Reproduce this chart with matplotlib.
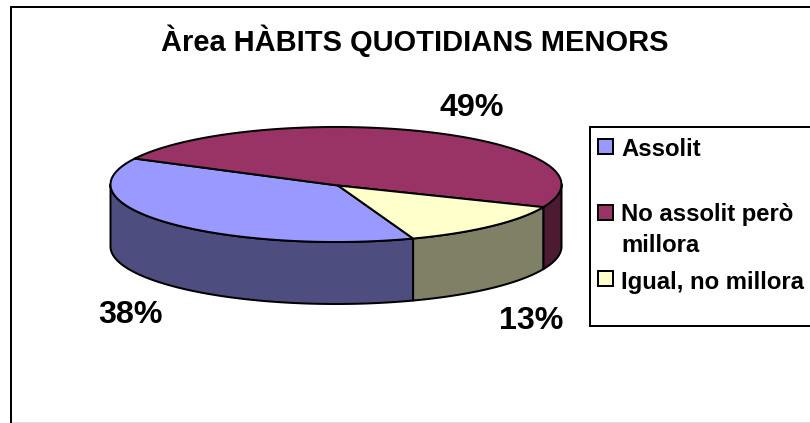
import numpy as np
import matplotlib
matplotlib.use("Agg")
import matplotlib.pyplot as plt
from matplotlib.patches import Polygon, Rectangle

plt.rcParams['font.family'] = ['Liberation Sans', 'DejaVu Sans']

title = "Àrea HÀBITS QUOTIDIANS MENORS"
categories = ["Assolit", "No assolit però\nmillora", "Igual, no millora"]
values = [38, 49, 13]
top_colors = ["#9999FF", "#993366", "#FFFFCC"]
side_colors = ["#4D4D80", "#4D1A33", "#808066"]
label_pos = [(130, 315), (472, 108), (531, 321)]
legend_y = [146.5, 212.5, 279]
legend_text_y = [148.5, 214.5, 281.5]

W, H = 810, 423
fig = plt.figure(figsize=(W / 100, H / 100), dpi=100)
ax = fig.add_axes([0, 0, 1, 1])
ax.set_xlim(0, W)
ax.set_ylim(H, 0)
ax.axis("off")

PX = 0.72
LW = 2 * PX

# chart frame
ax.add_patch(Rectangle((11, 7), 830, 440, fc="white", ec="black", lw=LW, zorder=1))
ax.plot([12, W], [422.5, 422.5], color="#DDDDDD", lw=PX, zorder=1.5)

# pie geometry
cx, cy, rx, ry, depth = 336, 184.5, 225.5, 57.5, 62
apex = (338, 185.5)
start = 290.0


def pt(t, dy=0.0):
    t = np.asarray(t)
    return np.column_stack([cx + rx * np.cos(np.radians(t)),
                            cy - ry * np.sin(np.radians(t)) + dy])


# slice spans, clockwise from the start angle
spans = []
a = start
for v in values:
    b = a - 360.0 * v / sum(values)
    spans.append((b, a))
    a = b

# side walls
for (a, b), c in zip(spans, side_colors):
    for k in (-360, 0, 360):
        lo = max(a - k, 180)
        hi = min(b - k, 360)
        if hi > lo:
            t = np.linspace(lo, hi, 120)
            poly = np.vstack([pt(t), pt(t[::-1], depth)])
            ax.add_patch(Polygon(poly, closed=True, fc=c, ec="black", lw=LW,
                                 joinstyle="round", zorder=2))

# top faces
for (a, b), c in zip(spans, top_colors):
    t = np.linspace(a, b, 240)
    poly = np.vstack([[apex[0], apex[1]], pt(t)])
    ax.add_patch(Polygon(poly, closed=True, fc=c, ec="black", lw=LW,
                         joinstyle="round", zorder=3))

# title and percentage labels
ax.text(415, 41, title, ha="center", va="center", fontsize=29 * PX,
        fontweight="bold", color="black", zorder=5)
for v, (x, y) in zip(values, label_pos):
    ax.text(x, y, f"{v}%", ha="center", va="center", fontsize=32.3 * PX,
            fontweight="bold", color="black", zorder=5)

# legend
ax.add_patch(Rectangle((589.5, 127), 300, 199, fc="white", ec="black", lw=LW, zorder=4))
for name, c, y, ty in zip(categories, top_colors, legend_y, legend_text_y):
    ax.add_patch(Rectangle((598, y - 7.5), 15, 15, fc=c, ec="black", lw=LW, zorder=5))
    ax.text(621, ty - 11, name, ha="left", va="top", fontsize=23.9 * PX,
            fontweight="bold", linespacing=1.43, color="black", zorder=5)

fig.savefig("out.png", dpi=100, facecolor="white")
